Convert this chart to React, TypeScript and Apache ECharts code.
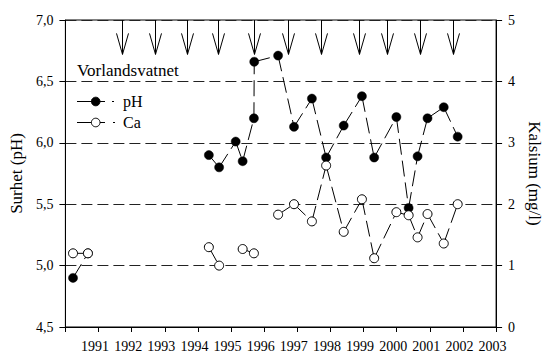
import React, { useEffect, useRef } from "react";
import * as echarts from "echarts";

// ---- data ----
const sampleYears = [1990.23, 1990.68, 1992.5, 1994.33, 1994.64, 1995.14, 1995.35, 1995.69, 1995.7, 1996.42, 1996.9, 1997.44, 1997.87, 1998.4, 1998.95, 1999.32, 1999.99, 2000.36, 2000.63, 2000.93, 2001.42, 2001.84];
const phValues = [4.9, 5.1, null, 5.9, 5.8, 6.01, 5.85, 6.2, 6.66, 6.71, 6.13, 6.36, 5.88, 6.14, 6.38, 5.88, 6.21, 5.47, 5.89, 6.2, 6.29, 6.05];
const caValues = [1.2, 1.2, null, 1.3, 1.0, null, 1.27, 1.2, null, 1.83, 2.0, 1.72, 2.63, 1.55, 2.08, 1.12, 1.87, 1.82, 1.46, 1.84, 1.36, 2.0];
const arrowYears = [1991.71, 1992.71, 1993.67, 1994.6, 1995.69, 1996.71, 1997.7, 1998.86, 1999.7, 2000.7, 2001.69];
const xTickYears = [1991, 1992, 1993, 1994, 1995, 1996, 1997, 1998, 1999, 2000, 2001, 2002, 2003];
const phTickValues = [4.5, 5.0, 5.5, 6.0, 6.5, 7.0];
const phTickLabels = ["4,5", "5,0", "5,5", "6,0", "6,5", "7,0"];
const caTickLabels = ["0", "1", "2", "3", "4", "5"];
const lakeName = "Vorlandsvatnet";
const phName = "pH";
const caName = "Ca";
const leftAxisTitle = "Surhet (pH)";
const rightAxisTitle = "Kalsium (mg/l)";

const FONT = "Liberation Serif";
const ARROW_TIP_PH = 6.72;

function segmentsOf(values: (number | null)[]) {
  const segs: number[][] = [];
  for (let i = 0; i < values.length - 1; i++) {
    const a = values[i];
    const b = values[i + 1];
    if (a != null && b != null) segs.push([sampleYears[i], a, sampleYears[i + 1], b]);
  }
  return segs;
}

function pointsOf(values: (number | null)[]) {
  const pts: number[][] = [];
  values.forEach((v, i) => {
    if (v != null) pts.push([sampleYears[i], v]);
  });
  return pts;
}

const segRender = (params: any, api: any) => {
  const p1 = api.coord([api.value(0), api.value(1)]);
  const p2 = api.coord([api.value(2), api.value(3)]);
  return {
    type: "line",
    shape: { x1: p1[0], y1: p1[1], x2: p2[0], y2: p2[1] },
    style: { stroke: "#000", lineWidth: 1, lineDash: [16, 6], fill: null },
  };
};

const txt = (text: string, left: number, top: number, size: number) => ({
  type: "text",
  left,
  top,
  style: { text, fontFamily: FONT, fontSize: size, fill: "#000" },
});

export default function App() {
  const ref = useRef<HTMLDivElement>(null);
  useEffect(() => {
    if (!ref.current) return;
    const chart = echarts.init(ref.current, undefined, { renderer: "svg" });
    const axisLabelStyle = { color: "#000", fontFamily: FONT, fontSize: 14 };
    chart.setOption({
      animation: false,
      backgroundColor: "#fff",
      textStyle: { fontFamily: FONT },
      grid: { left: 65, right: 47, top: 20, bottom: 24, show: true, borderColor: "#000", borderWidth: 1 },
      xAxis: {
        type: "value",
        min: 1990,
        max: 2003,
        interval: 1,
        axisLine: { show: true, lineStyle: { color: "#000", width: 1 } },
        axisTick: { show: true, inside: false, length: 5, lineStyle: { color: "#000" } },
        axisLabel: {
          ...axisLabelStyle,
          margin: 12,
          padding: [0, 7, 0, 0],
          showMinLabel: true,
          showMaxLabel: true,
          formatter: (v: number) => (xTickYears.indexOf(Math.round(v)) >= 0 ? String(Math.round(v)) : ""),
        },
        splitLine: { show: false },
      },
      yAxis: [
        {
          type: "value",
          min: 4.5,
          max: 7.0,
          interval: 0.5,
          position: "left",
          name: leftAxisTitle,
          nameLocation: "middle",
          nameGap: 37,
          nameTextStyle: { color: "#000", fontFamily: FONT, fontSize: 17 },
          axisLine: { show: true, lineStyle: { color: "#000", width: 1 } },
          axisTick: { show: true, length: 6, lineStyle: { color: "#000" } },
          axisLabel: {
            ...axisLabelStyle,
            margin: 12,
            formatter: (v: number) => {
              const i = phTickValues.findIndex((t) => Math.abs(t - v) < 1e-6);
              return i >= 0 ? phTickLabels[i] : "";
            },
          },
          splitLine: { show: true, lineStyle: { color: "#222", width: 1, type: [11, 5] } },
        },
        {
          type: "value",
          min: 0,
          max: 5,
          interval: 1,
          position: "right",
          name: rightAxisTitle,
          nameLocation: "middle",
          nameRotate: -90,
          nameGap: 28,
          nameTextStyle: { color: "#000", fontFamily: FONT, fontSize: 17 },
          axisLine: { show: true, lineStyle: { color: "#000", width: 1 } },
          axisTick: { show: true, length: 6, lineStyle: { color: "#000" } },
          axisLabel: {
            ...axisLabelStyle,
            margin: 12,
            formatter: (v: number) => caTickLabels[Math.round(v)] ?? "",
          },
          splitLine: { show: false },
        },
      ],
      graphic: [
        txt(lakeName, 77, 62, 17),
        { type: "line", shape: { x1: 77, y1: 101.5, x2: 105, y2: 101.5 }, style: { stroke: "#000", lineWidth: 1 } },
        { type: "line", shape: { x1: 112, y1: 101.5, x2: 114, y2: 101.5 }, style: { stroke: "#000", lineWidth: 1 } },
        { type: "circle", shape: { cx: 95.7, cy: 101.5, r: 4.3 }, style: { fill: "#000", stroke: "#000" } },
        txt(phName, 123, 93, 16),
        { type: "line", shape: { x1: 77, y1: 122.5, x2: 105, y2: 122.5 }, style: { stroke: "#000", lineWidth: 1 } },
        { type: "line", shape: { x1: 113, y1: 122.5, x2: 115, y2: 122.5 }, style: { stroke: "#000", lineWidth: 1 } },
        { type: "circle", shape: { cx: 95.7, cy: 122.5, r: 4.3 }, style: { fill: "#fff", stroke: "#000", lineWidth: 1 } },
        txt(caName, 123, 114, 16),
      ],
      series: [
        {
          type: "custom",
          name: "arrows",
          xAxisIndex: 0,
          yAxisIndex: 0,
          z: 2,
          silent: true,
          data: arrowYears.map((y) => [y, 7.0]),
          encode: { x: 0, y: 1 },
          renderItem: (params: any, api: any) => {
            const year = api.value(0);
            const top = api.coord([year, api.value(1)]);
            const tip = api.coord([year, ARROW_TIP_PH]);
            const x = Math.round(top[0]) + 0.5;
            return {
              type: "group",
              children: [
                { type: "line", shape: { x1: x, y1: top[1], x2: x, y2: tip[1] }, style: { stroke: "#000", lineWidth: 1 } },
                {
                  type: "polyline",
                  shape: { points: [[x - 6, tip[1] - 21], [x, tip[1]], [x + 6, tip[1] - 21]] },
                  style: { stroke: "#000", lineWidth: 1, fill: null },
                },
              ],
            };
          },
        },
        {
          type: "custom",
          name: "pH-lines",
          xAxisIndex: 0,
          yAxisIndex: 0,
          z: 1,
          silent: true,
          data: segmentsOf(phValues),
          encode: { x: [0, 2], y: [1, 3] },
          renderItem: segRender,
        },
        {
          type: "custom",
          name: "Ca-lines",
          xAxisIndex: 0,
          yAxisIndex: 1,
          z: 1,
          silent: true,
          data: segmentsOf(caValues),
          encode: { x: [0, 2], y: [1, 3] },
          renderItem: segRender,
        },
        {
          type: "scatter",
          name: phName,
          xAxisIndex: 0,
          yAxisIndex: 0,
          z: 3,
          symbol: "circle",
          symbolSize: 9,
          itemStyle: { color: "#000", borderColor: "#000", borderWidth: 0.5, opacity: 1 },
          data: pointsOf(phValues),
        },
        {
          type: "scatter",
          name: caName,
          xAxisIndex: 0,
          yAxisIndex: 1,
          z: 4,
          symbol: "circle",
          symbolSize: 9,
          itemStyle: { color: "#fff", borderColor: "#000", borderWidth: 1, opacity: 1 },
          data: pointsOf(caValues),
        },
      ],
    });
    return () => chart.dispose();
  }, []);
  return <div ref={ref} style={{ position: "absolute", left: 0, top: 0, width: 551, height: 353 }} />;
}
